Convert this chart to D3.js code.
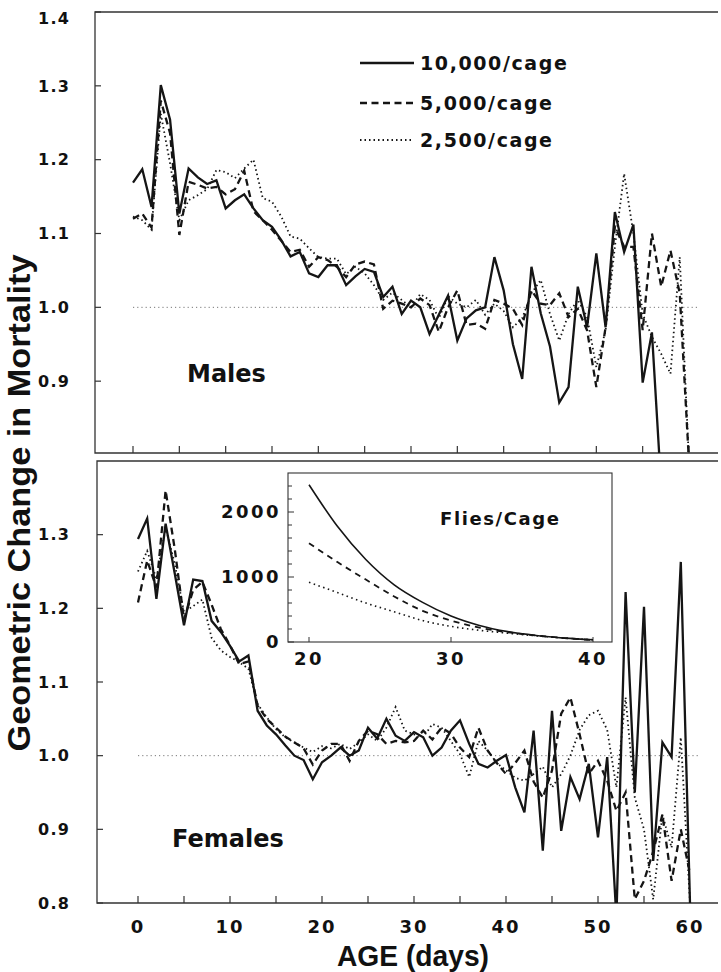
<!DOCTYPE html>
<html><head><meta charset="utf-8">
<script src="https://cdn.jsdelivr.net/npm/d3@7"></script>
<style>
body{margin:0;background:#fff}
text{font-family:"DejaVu Sans",sans-serif;font-weight:bold;fill:#111}
text.title{font-family:"Liberation Sans",Arial,sans-serif}
</style>
</head><body>
<svg id="c" width="721" height="972"></svg>
<script>
// ---------- data ----------
const ages = d3.range(0, 61);
const seriesNames = ["10,000/cage", "5,000/cage", "2,500/cage"];

const males10000 = [1.169,1.187,1.136,1.301,1.254,1.127,1.188,1.176,1.167,1.172,
  1.134,1.145,1.153,1.134,1.118,1.109,1.091,1.069,1.075,1.046,
  1.041,1.057,1.057,1.030,1.042,1.052,1.048,1.014,1.028,0.991,
  1.009,1.000,0.964,0.990,1.016,0.955,0.985,0.996,1.000,1.068,
  1.023,0.950,0.903,1.055,0.992,0.947,0.871,0.892,1.028,0.973,
  1.073,0.973,1.129,1.075,1.112,0.898,0.966,0.756];
const males5000 = [1.120,1.127,1.108,1.280,1.236,1.098,1.170,1.166,1.161,1.163,
  1.153,1.160,1.185,1.130,1.118,1.105,1.090,1.075,1.078,1.055,
  1.068,1.064,1.055,1.041,1.058,1.062,1.058,0.998,1.009,1.005,
  1.000,1.012,1.003,0.967,1.000,1.023,0.976,0.978,0.971,1.010,
  1.005,0.998,0.976,1.023,1.005,1.003,1.019,0.987,0.998,0.969,
  0.892,0.973,1.109,1.082,1.082,0.969,1.100,1.028,1.077,1.019,0.790];
const males2500 = [1.123,1.118,1.105,1.262,1.195,1.118,1.145,1.152,1.160,1.186,
  1.183,1.175,1.188,1.200,1.148,1.143,1.123,1.096,1.093,1.080,
  1.068,1.066,1.066,1.045,1.055,1.046,1.030,1.010,1.020,1.010,
  1.000,1.018,1.010,0.985,1.015,1.005,1.000,1.010,0.990,1.005,
  0.995,0.973,0.985,1.019,1.037,0.991,0.955,0.991,1.010,0.987,
  0.919,0.969,1.082,1.181,1.100,0.991,0.960,0.937,0.910,1.068,0.790];

const females10000 = [1.294,1.322,1.213,1.315,1.247,1.177,1.239,1.237,1.183,1.168,
  1.149,1.128,1.136,1.061,1.041,1.029,1.014,1.000,0.994,0.968,
  0.991,1.000,1.011,1.000,1.007,1.038,1.023,1.050,1.027,1.020,
  1.032,1.025,1.000,1.011,1.034,1.048,1.016,0.989,0.984,0.993,
  1.001,0.957,0.923,1.034,0.871,1.061,0.898,0.971,0.941,0.989,
  0.889,0.998,0.780,1.222,0.950,1.202,0.857,1.018,0.998,1.263,0.800];
const females5000 = [1.208,1.265,1.228,1.360,1.280,1.185,1.225,1.236,1.205,1.172,
  1.150,1.124,1.128,1.068,1.050,1.038,1.026,1.018,1.010,0.988,
  1.007,1.016,1.016,0.993,1.020,1.034,1.029,1.016,1.020,1.018,
  1.020,1.034,1.022,1.038,1.030,1.011,0.998,1.038,1.007,0.990,
  0.975,0.990,1.007,0.965,0.943,0.980,1.057,1.079,1.029,0.975,
  0.993,0.966,0.925,0.950,0.805,0.830,0.870,0.920,0.830,0.900,0.840];
const females2500 = [1.250,1.278,1.240,1.310,1.260,1.195,1.203,1.212,1.160,1.143,
  1.134,1.127,1.118,1.070,1.052,1.036,1.025,1.018,1.011,1.005,
  1.013,1.010,1.016,1.009,1.018,1.029,1.020,1.038,1.066,1.034,
  1.029,1.025,1.043,1.038,1.020,1.002,0.971,1.020,1.007,0.990,
  0.980,0.970,0.966,0.975,0.985,0.957,0.975,1.000,1.035,1.055,
  1.061,1.035,0.957,1.079,0.943,0.900,0.805,0.920,0.875,1.025,0.800];

const insetAges = [20,22,24,26,28,30,32,34,36,38,40];
const inset10000 = [2420,1780,1270,880,610,400,255,160,100,60,35];
const inset5000  = [1520,1230,960,700,480,330,220,150,100,60,30];
const inset2500  = [920,760,600,465,330,240,180,135,95,60,35];

const maleYTicks = [1.4,1.3,1.2,1.1,1.0,0.9];
const femaleYTicks = [1.3,1.2,1.1,1.0,0.9,0.8];
const xTickMarks = d3.range(0, 65, 5);
const xTickLabels = [0,10,20,30,40,50,60];
const insetYLabels = [0,1000,2000];
const insetYMinor = d3.range(0, 2600, 200);
const insetXLabels = [20,30,40];

// ---------- drawing ----------
const svg = d3.select("#c");
const ink = "#151515";
const styles = [
  {w:2.3, dash:null},
  {w:2.3, dash:"7,4.5"},
  {w:1.8, dash:"1.5,3"}
];

function drawPanel(cfg){
  const x = d3.scaleLinear().domain([0,60]).range(cfg.xr);
  const y = d3.scaleLinear().domain([0.8,1.4]).range(cfg.yr);
  const g = svg.append("g");
  const clipId = "clip" + cfg.id;
  svg.append("defs").append("clipPath").attr("id", clipId)
    .append("rect").attr("x", cfg.left).attr("y", cfg.top)
    .attr("width", cfg.right - cfg.left).attr("height", cfg.bottom - cfg.top);

  g.append("path")
    .attr("d", `M${cfg.right},${cfg.top}H${cfg.left}V${cfg.bottom}H${cfg.right}`)
    .attr("fill","none").attr("stroke","#333").attr("stroke-width",1.3);

  g.selectAll(".xt").data(xTickMarks).join("line")
    .attr("x1", d => x(d)).attr("x2", d => x(d))
    .attr("y1", cfg.bottom).attr("y2", cfg.bottom - 7)
    .attr("stroke","#333").attr("stroke-width",1.2);
  g.selectAll(".yt").data(cfg.yTicks).join("line")
    .attr("x1", cfg.left).attr("x2", cfg.left + 6)
    .attr("y1", d => y(d)).attr("y2", d => y(d))
    .attr("stroke","#333").attr("stroke-width",1.2);
  g.selectAll(".yl").data(cfg.yTicks).join("text")
    .attr("x", 70).attr("y", d => Math.max(y(d), cfg.top + 6))
    .attr("dy","0.36em").attr("text-anchor","end")
    .attr("font-size",16).attr("letter-spacing",1.2)
    .text(d => d3.format(".1f")(d));

  g.append("line")
    .attr("x1", x(0)).attr("x2", x(61)).attr("y1", y(1)).attr("y2", y(1))
    .attr("stroke","#777").attr("stroke-width",1).attr("stroke-dasharray","1.2,3");

  const line = d3.line().x((d,i) => x(ages[i])).y(d => y(d));
  const lg = g.append("g").attr("clip-path", `url(#${clipId})`);
  cfg.series.forEach((s, k) => {
    lg.append("path").attr("d", line(s))
      .attr("fill","none").attr("stroke", ink)
      .attr("stroke-width", styles[k].w)
      .attr("stroke-dasharray", styles[k].dash)
      .attr("stroke-linejoin","miter");
  });

  g.append("text").attr("x", cfg.labelX).attr("y", cfg.labelY)
    .attr("font-size",24).text(cfg.label);
  return {x, y};
}

const malePanel = drawPanel({id:"m", left:95, right:718, top:12, bottom:453,
  xr:[133,689], yr:[455,12], yTicks: maleYTicks,
  series:[males10000, males5000, males2500], label:"Males", labelX:187, labelY:382});
const femalePanel = drawPanel({id:"f", left:97, right:718, top:461, bottom:903,
  xr:[138,690], yr:[903,461], yTicks: femaleYTicks,
  series:[females10000, females5000, females2500], label:"Females", labelX:172, labelY:847});

svg.selectAll(".xl").data(xTickLabels).join("text")
  .attr("x", d => femalePanel.x(d)).attr("y", 933).attr("text-anchor","middle")
  .attr("font-size",18).attr("letter-spacing",2)
  .text(d => d);

svg.append("text").attr("class","title").attr("x", 413).attr("y", 966).attr("text-anchor","middle")
  .attr("font-size",29).attr("textLength",152).attr("lengthAdjust","spacingAndGlyphs")
  .text("AGE (days)");
svg.append("text").attr("class","title").attr("transform","translate(30,503) rotate(-90)")
  .attr("text-anchor","middle")
  .attr("font-size",32).attr("textLength",497).attr("lengthAdjust","spacingAndGlyphs")
  .text("Geometric Change in Mortality");

const legY = [63, 103, 140];
seriesNames.forEach((n, k) => {
  svg.append("line").attr("x1",360).attr("x2",414)
    .attr("y1",legY[k]).attr("y2",legY[k]).attr("stroke",ink)
    .attr("stroke-width",styles[k].w + 0.3).attr("stroke-dasharray",styles[k].dash);
  svg.append("text").attr("x",420).attr("y",legY[k]).attr("dy","0.36em")
    .attr("font-size",19).attr("letter-spacing",1.6).text(n);
});

const ix = d3.scaleLinear().domain([20,40]).range([309,593]);
const iy = d3.scaleLinear().domain([0,2600]).range([642,473]);
const ig = svg.append("g");
ig.append("rect").attr("x",288).attr("y",473).attr("width",324).attr("height",169)
  .attr("fill","#fff").attr("stroke","#333").attr("stroke-width",1.1);
ig.selectAll(".iym").data(insetYMinor).join("line")
  .attr("x1",288).attr("x2", d => d % 1000 === 0 ? 294 : 292)
  .attr("y1", d => iy(d)).attr("y2", d => iy(d))
  .attr("stroke","#333").attr("stroke-width",1);
ig.selectAll(".ixm").data(insetXLabels).join("line")
  .attr("x1", d => ix(d)).attr("x2", d => ix(d)).attr("y1",642).attr("y2",637)
  .attr("stroke","#333").attr("stroke-width",1);
ig.selectAll(".iyl").data(insetYLabels).join("text")
  .attr("x",281).attr("y", d => iy(d)).attr("dy","0.36em").attr("text-anchor","end")
  .attr("font-size",18).attr("letter-spacing",2.5).text(d => d);
ig.selectAll(".ixl").data(insetXLabels).join("text")
  .attr("x", d => ix(d)).attr("y",665).attr("text-anchor","middle")
  .attr("font-size",18).attr("letter-spacing",2.5).text(d => d);
ig.append("text").attr("x",440).attr("y",525).attr("font-size",18)
  .attr("letter-spacing",1.6).text("Flies/Cage");
const iline = d3.line().curve(d3.curveMonotoneX).x((d,i) => ix(insetAges[i])).y(d => iy(d));
const iStyles = [{w:1.6,dash:null},{w:1.8,dash:"6,5"},{w:1.6,dash:"1.5,3.5"}];
[inset10000, inset5000, inset2500].forEach((s,k) => {
  ig.append("path").attr("d", iline(s)).attr("fill","none").attr("stroke",ink)
    .attr("stroke-width",iStyles[k].w).attr("stroke-dasharray",iStyles[k].dash);
});
</script>
</body></html>
